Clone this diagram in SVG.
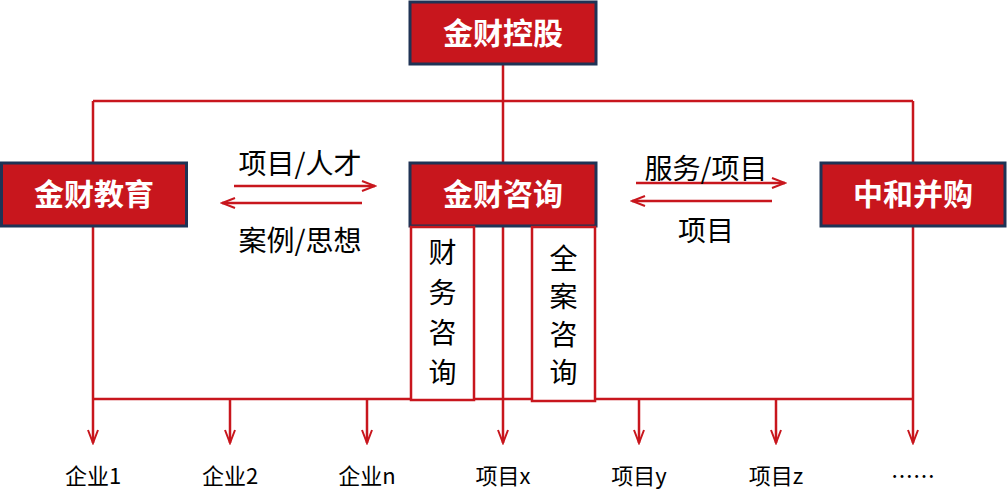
<svg xmlns="http://www.w3.org/2000/svg" width="1007" height="502" viewBox="0 0 1007 502">
<defs>
<marker id="ah" markerWidth="16" markerHeight="12" refX="14" refY="6" orient="auto" markerUnits="userSpaceOnUse"><path d="M1,1 L14,6 L1,11" fill="none" stroke="#c8161d" stroke-width="2"/></marker>
<style>
.box{fill:#c8161d;stroke:#1f3355;stroke-width:3}
.bt{fill:#fff;font-family:"Noto Sans CJK SC",sans-serif;font-weight:bold;font-size:30px;text-anchor:middle}
.ln{stroke:#c8161d;stroke-width:2.5;fill:none}
.t{font-family:"Noto Sans CJK SC",sans-serif;font-size:28px;fill:#000;text-anchor:middle}
.s{font-family:"Noto Sans CJK SC",sans-serif;font-size:22px;fill:#000;text-anchor:middle}
.sub{fill:#fff;stroke:#c8161d;stroke-width:2.5}
</style>
</defs>
<g id="connectors">
<path class="ln" d="M93,101 H913 M503,64 V101 M93,101 V399 M913,101 V399 M93,399 H913"/>
<path class="ln" d="M503,101 V443" marker-end="url(#ah)"/>
<path class="ln" d="M93,399 V443" marker-end="url(#ah)"/>
<path class="ln" d="M230,399 V443" marker-end="url(#ah)"/>
<path class="ln" d="M367,399 V443" marker-end="url(#ah)"/>
<path class="ln" d="M639,399 V443" marker-end="url(#ah)"/>
<path class="ln" d="M776,399 V443" marker-end="url(#ah)"/>
<path class="ln" d="M913,399 V443" marker-end="url(#ah)"/>
<path class="ln" d="M234,186 H375" marker-end="url(#ah)"/>
<path class="ln" d="M362,203 H222" marker-end="url(#ah)"/>
<path class="ln" d="M636,183 H785" marker-end="url(#ah)"/>
<path class="ln" d="M772,201 H632" marker-end="url(#ah)"/>
</g>
<g id="n1"><rect class="box" x="410" y="2" width="186" height="62"/><text class="bt" x="503" y="44">金财控股</text></g>
<g id="n2"><rect class="box" x="1.5" y="163" width="185" height="63"/><text class="bt" x="94" y="205">金财教育</text></g>
<g id="n3"><rect class="box" x="410" y="163" width="186" height="63"/><text class="bt" x="503" y="205">金财咨询</text></g>
<g id="n4"><rect class="box" x="821" y="163" width="184" height="63"/><text class="bt" x="913" y="205">中和并购</text></g>
<g id="n5"><rect class="sub" x="411" y="227" width="63" height="173"/><text class="t" x="442.5" y="263">财</text><text class="t" x="442.5" y="303">务</text><text class="t" x="442.5" y="343">咨</text><text class="t" x="442.5" y="383">询</text></g>
<g id="n6"><rect class="sub" x="532" y="227" width="63" height="174"/><text class="t" x="563.5" y="269">全</text><text class="t" x="563.5" y="307">案</text><text class="t" x="563.5" y="345">咨</text><text class="t" x="563.5" y="383">询</text></g>
<g id="labels">
<text class="t" x="300" y="174">项目/人才</text>
<text class="t" x="300" y="251">案例/思想</text>
<text class="t" x="706" y="179">服务/项目</text>
<text class="t" x="706" y="241">项目</text>
<text class="s" x="93" y="484">企业1</text>
<text class="s" x="230" y="484">企业2</text>
<text class="s" x="367" y="484">企业n</text>
<text class="s" x="503" y="484">项目x</text>
<text class="s" x="639" y="484">项目y</text>
<text class="s" x="776" y="484">项目z</text>
<text class="s" x="913" y="484">……</text>
</g>
</svg>
